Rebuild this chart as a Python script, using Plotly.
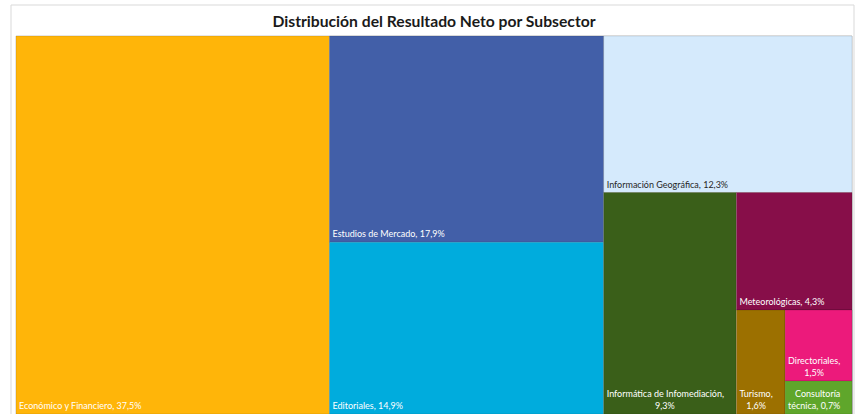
import plotly.graph_objects as go

W, H = 858, 414

# Leaf data
subsectors = ["Económico y Financiero", "Estudios de Mercado", "Editoriales",
              "Información Geográfica", "Informática de Infomediación", "Meteorológicas",
              "Turismo", "Directoriales", "Consultoría técnica"]
shares = [37.5, 17.9, 14.9, 12.3, 9.3, 4.3, 1.6, 1.5, 0.7]
colors = ["#FFB509", "#425FA8", "#00ACDD", "#D5EAFC", "#3A5F19",
          "#870E49", "#9C7000", "#EC1A7B", "#5FA62B"]
text_colors = ["white", "white", "white", "#262626", "white",
               "white", "white", "white", "white"]
# label text as displayed (Spanish decimal comma); short lines padded so lines look centred
NB = "&nbsp;"
label_texts = ["Económico y Financiero, 37,5%", "Estudios de Mercado, 17,9%",
               "Editoriales, 14,9%", "Información Geográfica, 12,3%",
               "Informática de Infomediación,<br>" + NB * 21 + "9,3%", "Meteorológicas, 4,3%",
               "Turismo,<br>" + NB * 3 + "1,6%", "Directoriales,<br>" + NB * 7 + "1,5%",
               NB * 3 + "Consultoría<br>técnica, 0,7%"]

# hidden grouping nodes that reproduce the layout (alternating dice/slice)
leaf_parents = ["R", "G1", "G1", "G2", "G3", "G4", "G5", "G6", "G6"]
group_parent = {"R": "", "G1": "R", "G2": "R", "G3": "G2", "G4": "G3", "G5": "G4", "G6": "G5"}
node_order = ["R", "L0", "G1", "L1", "L2", "G2", "L3", "G3", "L4",
              "G4", "L5", "G5", "L6", "G6", "L7", "L8"]

ids, labels, parents, values, texts, mcolors, tcolors = [], [], [], [], [], [], []
for nid in node_order:
    ids.append(nid)
    if nid.startswith("L"):
        i = int(nid[1:])
        labels.append(subsectors[i])
        parents.append(leaf_parents[i])
        values.append(shares[i])
        texts.append(label_texts[i])
        mcolors.append(colors[i])
        tcolors.append(text_colors[i])
    else:
        labels.append(" ")
        parents.append(group_parent[nid])
        values.append(0)
        texts.append("")
        mcolors.append("#FFFFFF")
        tcolors.append("white")

fig = go.Figure(go.Treemap(
    ids=ids, labels=labels, parents=parents, values=values,
    branchvalues="remainder",
    text=texts, texttemplate="%{text}",
    textposition="bottom left",
    textfont=dict(family="Lato", size=9, color=tcolors),
    marker=dict(colors=mcolors, line=dict(width=0.6, color="rgba(0,0,0,0.18)"),
                pad=dict(t=0, l=0, r=0, b=0), depthfade=False),
    tiling=dict(packing="slice-dice", pad=0),
    pathbar=dict(visible=False),
    hoverinfo="skip",
    sort=False,
    domain=dict(x=[16 / W, 852 / W], y=[0, 1 - 36 / H]),
))

fig.add_shape(type="rect", xref="paper", yref="paper",
              x0=11 / W, x1=854 / W, y0=-0.05, y1=1 - 5 / H,
              line=dict(color="#D9D9D9", width=1), fillcolor="rgba(0,0,0,0)", layer="below")

fig.update_layout(
    width=W, height=H,
    margin=dict(l=0, r=0, t=0, b=0),
    paper_bgcolor="white",
    uniformtext=dict(minsize=9, mode="show"),
    title=dict(text="<b>Distribución del Resultado Neto por Subsector</b>",
               x=434 / W, xanchor="center", y=1 - 22 / H, yanchor="middle",
               yref="container", xref="container",
               font=dict(family="Lato", size=15.7, color="#1a1a1a")),
)

fig.write_html("out.html", config={"displayModeBar": False},
               post_script="document.body.style.margin='0';document.body.style.overflow='hidden';")
